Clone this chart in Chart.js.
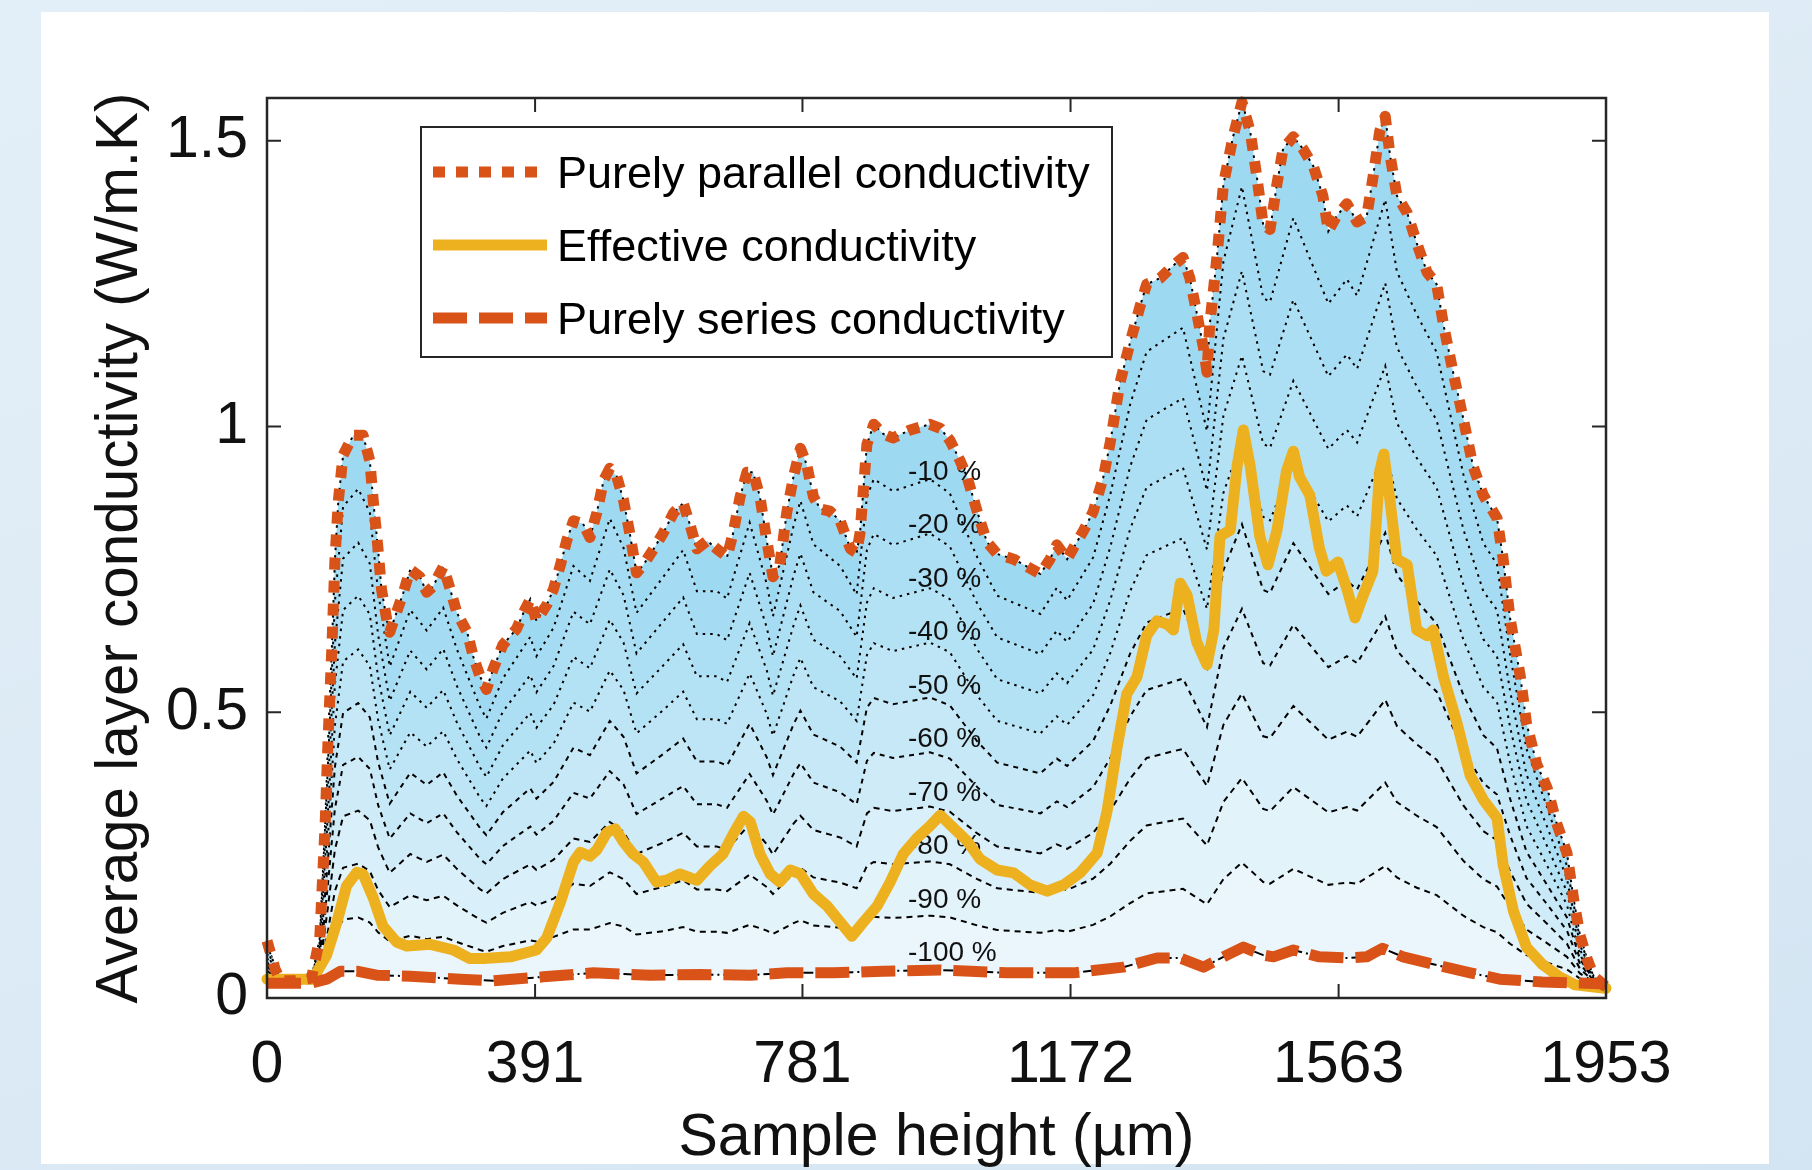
<!DOCTYPE html>
<html>
<head>
<meta charset="utf-8">
<title>Average layer conductivity</title>
<script src="https://cdn.jsdelivr.net/npm/chart.js@4.4.1/dist/chart.umd.min.js"></script>
<style>
  html, body { margin: 0; padding: 0; }
  body {
    width: 1812px; height: 1170px; overflow: hidden; position: relative;
    background: linear-gradient(160deg, #e3eff8 0%, #dceaf5 55%, #d3e4f2 100%);
  }
  #panel { position: absolute; left: 41px; top: 12px; width: 1728px; height: 1152px; background: #fff; }
  #condChart { position: absolute; left: 0; top: 0; }
</style>
</head>
<body>
<div id="panel"></div>
<canvas id="condChart" width="1812" height="1170"></canvas>
<script>
/* ======================
   DATA
====================== */
const xTicks = [0, 391, 781, 1172, 1563, 1953];

// Purely parallel conductivity
const xParallel = [0,12,20,40,65,77,85,89,95,99,104,111,126,140,150,155,162,167,175,179,189,199,209,223,233,242,257,267,277,292,301,311,320,330,344,364,374,384,393,408,418,428,437,447,461,471,481,491,500,510,520,529,534,539,549,564,578,593,607,617,627,642,656,671,680,690,700,709,719,729,738,748,758,768,778,787,797,807,821,836,851,860,865,870,875,885,899,913,938,967,982,996,1011,1021,1036,1050,1065,1089,1113,1128,1142,1152,1167,1176,1191,1205,1220,1230,1244,1259,1273,1283,1303,1321,1336,1346,1356,1366,1371,1375,1386,1395,1409,1422,1434,1444,1453,1463,1473,1482,1497,1511,1526,1540,1548,1560,1575,1590,1604,1613,1623,1631,1638,1648,1663,1677,1692,1706,1716,1730,1745,1759,1774,1794,1803,1813,1828,1837,1852,1867,1881,1896,1906,1915,1925,1935,1945,1953];
const yParallel = [0.10,0.05,0.03,0.03,0.035,0.105,0.31,0.45,0.625,0.765,0.87,0.95,0.985,0.985,0.94,0.87,0.785,0.715,0.66,0.64,0.675,0.71,0.75,0.737,0.71,0.72,0.755,0.716,0.674,0.64,0.597,0.562,0.54,0.576,0.618,0.646,0.674,0.698,0.66,0.688,0.716,0.758,0.80,0.835,0.83,0.806,0.849,0.906,0.927,0.913,0.871,0.814,0.779,0.744,0.758,0.786,0.814,0.849,0.866,0.828,0.786,0.80,0.786,0.772,0.814,0.877,0.92,0.92,0.877,0.80,0.737,0.758,0.849,0.913,0.962,0.934,0.877,0.856,0.852,0.835,0.786,0.779,0.814,0.892,0.969,1.004,0.987,0.98,0.994,1.004,0.997,0.976,0.94,0.912,0.851,0.798,0.777,0.768,0.752,0.742,0.768,0.793,0.768,0.787,0.818,0.851,0.912,0.973,1.076,1.148,1.209,1.249,1.26,1.281,1.296,1.26,1.199,1.137,1.095,1.178,1.302,1.424,1.507,1.568,1.517,1.435,1.353,1.345,1.424,1.486,1.507,1.486,1.456,1.404,1.342,1.368,1.39,1.358,1.368,1.435,1.517,1.543,1.475,1.404,1.374,1.321,1.27,1.249,1.178,1.095,1.013,0.931,0.88,0.84,0.768,0.665,0.563,0.481,0.409,0.368,0.306,0.254,0.171,0.11,0.07,0.038,0.028,0.02];

// Effective conductivity
const xEffective = [0,40,67,87,102,116,131,140,155,169,189,204,238,272,296,316,355,393,408,428,447,457,471,481,496,508,520,534,549,568,583,602,627,646,665,680,695,705,719,734,748,763,778,797,817,836,853,870,890,909,928,948,967,982,1001,1021,1040,1065,1089,1113,1138,1162,1186,1211,1225,1240,1254,1269,1283,1298,1313,1322,1332,1342,1356,1371,1381,1390,1405,1415,1424,1434,1448,1460,1473,1487,1497,1506,1521,1535,1545,1562,1575,1587,1599,1613,1623,1629,1638,1648,1663,1677,1692,1701,1716,1736,1755,1774,1794,1803,1818,1837,1860,1884,1908,1945,1953];
const yEffective = [0.033,0.033,0.033,0.075,0.133,0.196,0.22,0.217,0.175,0.126,0.098,0.091,0.094,0.084,0.069,0.069,0.072,0.084,0.105,0.168,0.238,0.255,0.248,0.259,0.29,0.296,0.273,0.252,0.238,0.203,0.206,0.217,0.206,0.231,0.252,0.287,0.318,0.308,0.252,0.217,0.203,0.224,0.217,0.182,0.161,0.133,0.108,0.133,0.161,0.203,0.252,0.28,0.301,0.32,0.298,0.275,0.243,0.224,0.219,0.198,0.187,0.198,0.219,0.254,0.325,0.439,0.532,0.562,0.634,0.66,0.654,0.644,0.726,0.705,0.623,0.583,0.644,0.808,0.819,0.931,0.994,0.931,0.808,0.758,0.818,0.922,0.957,0.912,0.88,0.787,0.747,0.763,0.716,0.665,0.705,0.747,0.922,0.952,0.87,0.768,0.758,0.644,0.634,0.644,0.562,0.48,0.389,0.347,0.315,0.233,0.152,0.089,0.059,0.038,0.023,0.018,0.017];

// Purely series conductivity
const xSeries = [0,65,87,107,131,160,209,282,330,403,476,559,632,705,758,826,899,982,1079,1176,1249,1298,1332,1366,1400,1424,1453,1468,1497,1535,1575,1604,1627,1657,1701,1755,1798,1860,1945,1953];
const ySeries = [0.026,0.026,0.033,0.047,0.047,0.04,0.038,0.033,0.03,0.037,0.044,0.04,0.041,0.04,0.044,0.044,0.047,0.049,0.044,0.044,0.054,0.07,0.07,0.054,0.075,0.089,0.075,0.072,0.084,0.072,0.07,0.072,0.087,0.072,0.059,0.044,0.033,0.028,0.025,0.02];

// intermediate curves -10 % ... -90 %
const xBands = [0,20,65,77,89,99,111,133,150,162,179,209,233,257,277,311,320,344,384,393,418,447,471,500,520,539,578,607,627,656,671,704,729,738,768,778,797,836,860,875,885,913,967,996,1036,1065,1128,1152,1167,1205,1230,1259,1283,1336,1371,1395,1422,1453,1463,1497,1548,1575,1590,1631,1648,1677,1706,1745,1774,1794,1813,1837,1867,1896,1915,1935,1953];
const minus10 = [0.093,0.030,0.034,0.098,0.409,0.693,0.860,0.891,0.850,0.711,0.580,0.679,0.643,0.683,0.610,0.509,0.489,0.559,0.632,0.598,0.648,0.756,0.730,0.839,0.788,0.674,0.737,0.784,0.712,0.712,0.699,0.832,0.724,0.668,0.826,0.870,0.794,0.756,0.706,0.877,0.908,0.887,0.908,0.883,0.771,0.704,0.672,0.718,0.696,0.771,0.881,1.039,1.131,1.173,0.992,1.289,1.420,1.225,1.218,1.365,1.215,1.258,1.229,1.397,1.271,1.196,1.130,0.916,0.796,0.759,0.602,0.436,0.334,0.231,0.102,0.037,0.020];
const minus20 = [0.085,0.029,0.033,0.090,0.367,0.620,0.769,0.797,0.760,0.636,0.520,0.608,0.575,0.611,0.546,0.456,0.438,0.501,0.565,0.535,0.581,0.676,0.654,0.750,0.705,0.603,0.659,0.701,0.637,0.637,0.626,0.744,0.648,0.598,0.739,0.778,0.710,0.677,0.632,0.784,0.812,0.793,0.813,0.790,0.690,0.631,0.602,0.643,0.623,0.690,0.789,0.930,1.012,1.050,0.888,1.154,1.272,1.097,1.091,1.222,1.088,1.126,1.101,1.251,1.139,1.070,1.011,0.820,0.712,0.679,0.538,0.391,0.300,0.209,0.093,0.035,0.020];
const minus30 = [0.078,0.029,0.032,0.083,0.326,0.548,0.679,0.704,0.671,0.562,0.460,0.536,0.508,0.539,0.482,0.403,0.387,0.442,0.499,0.473,0.513,0.597,0.577,0.662,0.622,0.533,0.582,0.619,0.563,0.563,0.553,0.656,0.573,0.529,0.652,0.687,0.627,0.598,0.559,0.692,0.717,0.700,0.717,0.698,0.610,0.558,0.533,0.568,0.551,0.610,0.696,0.821,0.894,0.928,0.785,1.019,1.124,0.970,0.963,1.080,0.961,0.994,0.972,1.106,1.006,0.945,0.893,0.723,0.628,0.598,0.475,0.346,0.266,0.186,0.085,0.034,0.020];
const minus40 = [0.070,0.028,0.031,0.075,0.284,0.476,0.589,0.610,0.581,0.487,0.400,0.465,0.440,0.467,0.418,0.350,0.336,0.384,0.433,0.411,0.445,0.517,0.501,0.573,0.539,0.463,0.504,0.536,0.488,0.488,0.480,0.568,0.497,0.459,0.565,0.595,0.544,0.519,0.485,0.600,0.621,0.607,0.622,0.605,0.529,0.485,0.463,0.493,0.478,0.530,0.604,0.712,0.775,0.805,0.681,0.884,0.976,0.842,0.836,0.938,0.834,0.862,0.843,0.960,0.874,0.820,0.774,0.627,0.544,0.518,0.412,0.301,0.232,0.163,0.076,0.033,0.020];
const minus50 = [0.063,0.028,0.031,0.068,0.243,0.404,0.499,0.516,0.491,0.413,0.340,0.394,0.373,0.395,0.354,0.297,0.285,0.325,0.367,0.349,0.378,0.438,0.425,0.485,0.457,0.393,0.427,0.454,0.414,0.414,0.407,0.480,0.421,0.390,0.479,0.503,0.461,0.440,0.412,0.508,0.525,0.514,0.526,0.512,0.449,0.412,0.393,0.419,0.406,0.450,0.512,0.603,0.657,0.682,0.578,0.749,0.829,0.714,0.709,0.796,0.707,0.730,0.715,0.814,0.741,0.695,0.655,0.530,0.460,0.437,0.349,0.256,0.198,0.141,0.068,0.032,0.020];
const minus60 = [0.056,0.028,0.030,0.060,0.201,0.331,0.408,0.422,0.401,0.338,0.279,0.323,0.306,0.323,0.290,0.243,0.234,0.266,0.300,0.286,0.310,0.359,0.349,0.397,0.374,0.322,0.350,0.371,0.339,0.339,0.333,0.392,0.345,0.321,0.392,0.411,0.377,0.360,0.339,0.415,0.429,0.420,0.430,0.419,0.369,0.338,0.323,0.344,0.334,0.369,0.420,0.493,0.539,0.559,0.474,0.613,0.681,0.586,0.582,0.653,0.579,0.598,0.586,0.668,0.608,0.569,0.536,0.433,0.376,0.356,0.285,0.210,0.164,0.118,0.060,0.030,0.020];
const minus70 = [0.048,0.027,0.029,0.053,0.160,0.259,0.318,0.328,0.311,0.264,0.219,0.252,0.238,0.251,0.226,0.190,0.183,0.208,0.234,0.224,0.242,0.279,0.273,0.308,0.291,0.252,0.272,0.289,0.265,0.265,0.260,0.304,0.269,0.251,0.305,0.319,0.294,0.281,0.265,0.323,0.333,0.327,0.335,0.326,0.288,0.265,0.253,0.269,0.261,0.289,0.328,0.384,0.420,0.436,0.371,0.478,0.533,0.458,0.455,0.511,0.452,0.466,0.457,0.522,0.476,0.444,0.417,0.337,0.292,0.276,0.222,0.165,0.130,0.095,0.051,0.029,0.020];
const minus80 = [0.041,0.027,0.028,0.045,0.118,0.187,0.228,0.235,0.222,0.189,0.159,0.180,0.171,0.179,0.162,0.137,0.132,0.149,0.168,0.162,0.174,0.200,0.196,0.220,0.208,0.182,0.195,0.206,0.190,0.190,0.187,0.216,0.194,0.182,0.218,0.228,0.211,0.202,0.192,0.231,0.238,0.234,0.239,0.234,0.208,0.192,0.184,0.194,0.189,0.209,0.235,0.275,0.302,0.314,0.267,0.343,0.385,0.331,0.327,0.369,0.325,0.334,0.328,0.377,0.343,0.319,0.299,0.240,0.208,0.195,0.159,0.120,0.096,0.072,0.043,0.028,0.020];
const minus90 = [0.033,0.026,0.027,0.038,0.077,0.114,0.137,0.141,0.132,0.115,0.099,0.109,0.103,0.107,0.098,0.084,0.081,0.091,0.101,0.099,0.107,0.120,0.120,0.131,0.125,0.111,0.117,0.124,0.116,0.116,0.114,0.128,0.118,0.112,0.131,0.136,0.127,0.123,0.118,0.138,0.142,0.140,0.144,0.141,0.127,0.119,0.114,0.119,0.116,0.128,0.143,0.166,0.183,0.191,0.164,0.208,0.237,0.203,0.200,0.226,0.198,0.202,0.200,0.231,0.211,0.193,0.180,0.144,0.124,0.115,0.095,0.075,0.062,0.050,0.034,0.026,0.020];

const percentLabels = ["-10 %", "-20 %", "-30 %", "-40 %", "-50 %", "-60 %", "-70 %", "-80 %", "-90 %", "-100 %"];

/* ======================
   STYLE
====================== */
const FONT = "'Liberation Sans', Arial, Helvetica, sans-serif";
const ORANGE = "#D95319";
const YELLOW = "#EDB120";
const AXIS = "#262626";

// band fills, from the -90 % / series band up to the parallel / -10 % band
const bandColors = ["#eaf6fb", "#e2f3fa", "#d9eff9", "#d0ebf8", "#c6e8f7", "#bde5f6", "#b4e2f5", "#acdff4", "#a5dcf3", "#9ed9f2"];

function toPoints(xs, ys) {
  return xs.map((x, i) => ({ x: x, y: ys[i] }));
}

function bandDash(level) {
  // level 1 = -10 % ... 9 = -90 %
  if (level <= 4) return [2.5, 5];
  if (level <= 6) return [5, 5];
  return [6, 5];
}

/* ======================
   DATASETS
====================== */
function buildDatasets() {
  const ds = [];
  // thin black line under the series curve (-100 %)
  ds.push({
    label: "-100",
    data: toPoints(xSeries, ySeries),
    borderColor: "#000",
    borderWidth: 2,
    borderDash: [10, 4, 2, 4],
    fill: false,
    order: 10,
  });

  const bands = [minus90, minus80, minus70, minus60, minus50, minus40, minus30, minus20, minus10];
  bands.forEach((values, i) => {
    const level = 9 - i;
    ds.push({
      label: "-" + level * 10,
      data: toPoints(xBands, values),
      borderColor: "#000",
      borderWidth: 2,
      borderDash: bandDash(level),
      fill: "-1",
      backgroundColor: bandColors[i],
      order: 10,
    });
  });

  // thin black line under the parallel curve (0 %)
  ds.push({
    label: "0",
    data: toPoints(xParallel, yParallel),
    borderColor: "#000",
    borderWidth: 2,
    borderDash: [2.5, 5],
    fill: "-1",
    backgroundColor: bandColors[9],
    order: 10,
  });

  ds.push({
    label: "Effective conductivity",
    data: toPoints(xEffective, yEffective),
    borderColor: YELLOW,
    borderWidth: 11,
    borderJoinStyle: "round",
    borderCapStyle: "round",
    fill: false,
    order: 3,
    clip: false,
  });
  ds.push({
    label: "Purely series conductivity",
    data: toPoints(xSeries, ySeries),
    borderColor: ORANGE,
    borderWidth: 11,
    borderDash: [34, 12],
    borderJoinStyle: "round",
    fill: false,
    order: 2,
    clip: false,
  });
  ds.push({
    label: "Purely parallel conductivity",
    data: toPoints(xParallel, yParallel),
    borderColor: ORANGE,
    borderWidth: 11,
    borderDash: [12, 11],
    borderJoinStyle: "round",
    fill: false,
    order: 1,
    clip: false,
  });
  return ds;
}

/* ======================
   PLUGINS
====================== */
// box + inward ticks on all four sides
const frameTicks = {
  id: "frameTicks",
  afterDraw(chart) {
    const { ctx, chartArea: a, scales } = chart;
    const len = 14;
    ctx.save();
    ctx.strokeStyle = AXIS;
    ctx.lineWidth = 2;
    ctx.beginPath();
    scales.x.ticks.forEach((t) => {
      const px = scales.x.getPixelForValue(t.value);
      ctx.moveTo(px, a.bottom);
      ctx.lineTo(px, a.bottom - len);
      ctx.moveTo(px, a.top);
      ctx.lineTo(px, a.top + len);
    });
    scales.y.ticks.forEach((t) => {
      const py = scales.y.getPixelForValue(t.value);
      ctx.moveTo(a.left, py);
      ctx.lineTo(a.left + len, py);
      ctx.moveTo(a.right, py);
      ctx.lineTo(a.right - len, py);
    });
    ctx.stroke();
    ctx.lineWidth = 2.5;
    ctx.strokeRect(a.left, a.top, a.right - a.left, a.bottom - a.top);
    ctx.restore();
  },
};

// "-10 %" ... "-100 %" labels, drawn under the thick curves
const percentText = {
  id: "percentText",
  beforeDatasetDraw(chart, args) {
    if (chart.data.datasets[args.index].label !== "Effective conductivity") return;
    const { ctx, scales } = chart;
    const x = scales.x.getPixelForValue(935);
    ctx.save();
    ctx.font = "28px " + FONT;
    ctx.fillStyle = "#111";
    ctx.textAlign = "left";
    ctx.textBaseline = "middle";
    percentLabels.forEach((txt, i) => {
      const y = scales.y.getPixelForValue(0.92 - 0.0936 * i);
      ctx.fillText(txt, x, y);
    });
    ctx.restore();
  },
};

// legend box in the upper left of the axes
const boxLegend = {
  id: "boxLegend",
  afterDraw(chart) {
    const ctx = chart.ctx;
    const names = ["Purely parallel conductivity", "Effective conductivity", "Purely series conductivity"];
    const left = 421, top = 127, w = 691, h = 230;
    ctx.save();
    ctx.fillStyle = "#fff";
    ctx.fillRect(left, top, w, h);
    ctx.strokeStyle = AXIS;
    ctx.lineWidth = 2;
    ctx.strokeRect(left, top, w, h);

    names.forEach((name, i) => {
      const d = chart.data.datasets.find((s) => s.label === name);
      const y = 172 + i * 73;
      ctx.strokeStyle = d.borderColor;
      ctx.lineWidth = d.borderWidth;
      ctx.setLineDash(d.borderDash || []);
      ctx.lineCap = "butt";
      ctx.beginPath();
      ctx.moveTo(433, y);
      ctx.lineTo(547, y);
      ctx.stroke();
      ctx.setLineDash([]);
      ctx.fillStyle = "#000";
      ctx.font = "45px " + FONT;
      ctx.textAlign = "left";
      ctx.textBaseline = "middle";
      ctx.fillText(name, 557, y + 4);
    });
    ctx.restore();
  },
};

/* ======================
   CHART
====================== */
function drawChart() {
  const ctx = document.getElementById("condChart");
  new Chart(ctx, {
    type: "line",
    data: { datasets: buildDatasets() },
    options: {
      responsive: false,
      animation: false,
      devicePixelRatio: 1,
      layout: { padding: { left: 0, top: 98, right: 206, bottom: 0 } },
      elements: { point: { radius: 0 }, line: { tension: 0 } },
      plugins: {
        legend: { display: false },
        tooltip: { enabled: false },
      },
      scales: {
        x: {
          type: "linear",
          min: 0,
          max: 1953,
          grid: { display: false, drawTicks: false },
          border: { display: false },
          afterBuildTicks: (scale) => {
            scale.ticks = xTicks.map((v) => ({ value: v }));
          },
          afterFit: (scale) => {
            scale.height = 172;
          },
          ticks: {
            autoSkip: false,
            maxRotation: 0,
            padding: 32,
            color: "#111",
            font: { family: FONT, size: 59 },
            callback: (v) => String(v),
          },
          title: {
            display: true,
            text: "Sample height (\u00b5m)",
            color: "#111",
            font: { family: FONT, size: 59, lineHeight: 1 },
            padding: { top: 0, bottom: 1.5 },
          },
        },
        y: {
          min: 0,
          max: 1.575,
          grid: { display: false, drawTicks: false },
          border: { display: false },
          afterFit: (scale) => {
            scale.width = 267;
          },
          ticks: {
            stepSize: 0.5,
            includeBounds: false,
            padding: 19,
            color: "#111",
            font: { family: FONT, size: 59 },
            callback: (v) => String(v),
          },
          title: {
            display: true,
            text: "Average layer conductivity (W/m.K)",
            color: "#111",
            font: { family: FONT, size: 58.4, lineHeight: 1 },
            padding: { top: 92, bottom: 0 },
          },
        },
      },
    },
    plugins: [frameTicks, percentText, boxLegend],
  });
}

drawChart();
</script>
</body>
</html>
